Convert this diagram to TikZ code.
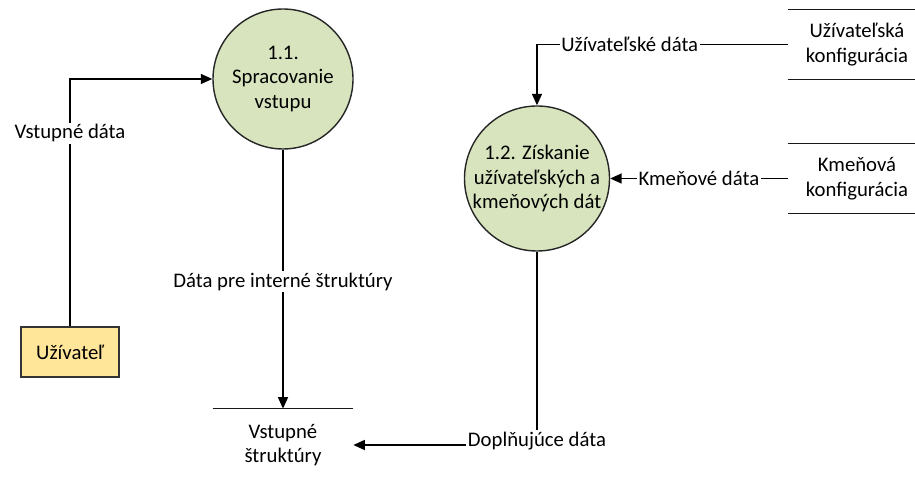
\documentclass[tikz,border=0pt]{standalone}
\usepackage{fontspec}
\setmainfont{Carlito}
\usepackage{xcolor}
\usepackage{tikz}
\usetikzlibrary{
  arrows.meta,
  positioning,
  calc,
}

\definecolor{procfill}{HTML}{D7E4BD}
\definecolor{userfill}{HTML}{FFE699}

\begin{document}
\begin{tikzpicture}[
  font=\fontsize{11.8}{14}\selectfont,
  every node/.style={align=center},
  process/.style={circle, draw=black!85, fill=procfill, minimum size=2.8cm, inner sep=0pt, line width=0.8pt},
  entity/.style={rectangle, draw=black!80, fill=userfill, minimum width=1.96cm, minimum height=1cm, line width=0.9pt},
  datastore/.style={minimum width=2.76cm, minimum height=1.38cm, inner sep=0pt},
  storeline/.style={line width=0.9pt, black!90},
  flow/.style={line width=0.85pt, -{Triangle[length=2.3mm,width=2mm]}},
  flowlabel/.style={fill=white, inner sep=1pt},
]

\useasboundingbox (0,0) rectangle (18.3,-9.54);

\node[process] (proc1) at (5.66,-1.58) {1.1.\\Spracovanie\\vstupu};
\node[process] (proc2) at (10.74,-3.57) {1.2. Získanie\\užívateľských a\\kmeňových dát};

\node[entity] (user) at (1.40,-7.04) {Užívateľ};

\node[datastore] (ucfg) at (17.14,-0.89) {Užívateľská\\konfigurácia};
\draw[storeline] (ucfg.north west) -- (ucfg.north east);
\draw[storeline] (ucfg.south west) -- (ucfg.south east);

\node[datastore] (kcfg) at (17.14,-3.57) {Kmeňová\\konfigurácia};
\draw[storeline] (kcfg.north west) -- (kcfg.north east);
\draw[storeline] (kcfg.south west) -- (kcfg.south east);

\node[datastore, minimum width=2.8cm, minimum height=1.44cm] (vst) at (5.66,-8.9) {Vstupné\\štruktúry};
\draw[storeline] (vst.north west) -- (vst.north east);

\draw[flow] (user.north) |- node[flowlabel, pos=0.39] {Vstupné dáta} (proc1.west);
\draw[flow] (proc1.south) -- node[flowlabel, pos=0.51] {Dáta pre interné štruktúry} (vst.north);
\draw[flow] (ucfg.west) -| node[flowlabel, pos=0.315] {Užívateľské dáta} (proc2.north);
\draw[flow] (kcfg.west) -- node[flowlabel] {Kmeňové dáta} (proc2.east);
\draw[flow] (proc2.south) |- node[flowlabel, pos=0.5, yshift=0.08cm] {Doplňujúce dáta} (vst.east);

\end{tikzpicture}
\end{document}
